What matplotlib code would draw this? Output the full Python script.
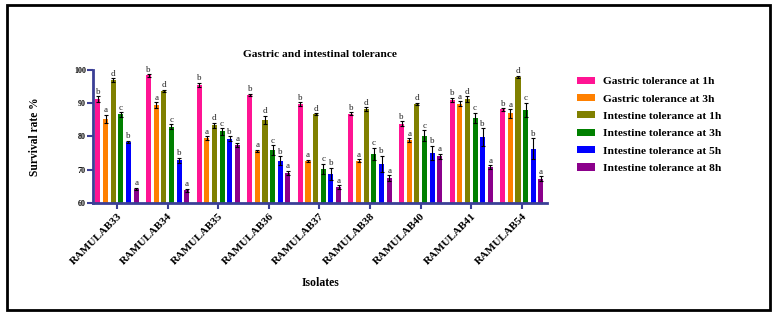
import matplotlib
matplotlib.use("Agg")
import matplotlib.pyplot as plt
import numpy as np
from matplotlib.patches import Rectangle

isolates = ["RAMULAB33", "RAMULAB34", "RAMULAB35", "RAMULAB36", "RAMULAB37",
            "RAMULAB38", "RAMULAB40", "RAMULAB41", "RAMULAB54"]
series_names = ["Gastric tolerance at 1h", "Gastric tolerance at 3h",
                "Intestine tolerance at 1h", "Intestine tolerance at 3h",
                "Intestine tolerance at 5h", "Intestine tolerance at 8h"]
gastric_1h = [91.2, 98.4, 95.6, 92.6, 89.8, 86.9, 83.9, 91.0, 88.2]
gastric_3h = [85.4, 89.5, 79.5, 75.7, 72.6, 72.7, 78.9, 89.9, 87.0]
intestine_1h = [97.0, 93.7, 83.4, 85.0, 86.7, 88.3, 89.9, 91.3, 98.0]
intestine_3h = [86.7, 83.0, 81.5, 75.9, 70.3, 74.8, 80.2, 85.6, 88.0]
intestine_5h = [78.3, 72.8, 79.3, 72.7, 68.8, 71.8, 75.1, 79.8, 76.3]
intestine_8h = [64.2, 63.8, 77.4, 69.1, 64.8, 67.4, 74.0, 70.7, 67.3]

err_g1 = [0.9, 0.4, 0.6, 0.3, 0.5, 0.4, 0.8, 0.7, 0.4]
err_g3 = [1.2, 0.9, 0.6, 0.3, 0.4, 0.5, 0.6, 0.8, 1.3]
err_i1 = [0.5, 0.4, 0.8, 1.3, 0.3, 0.5, 0.3, 0.9, 0.3]
err_i3 = [0.7, 0.7, 1.0, 1.4, 1.5, 1.8, 1.7, 1.6, 2.2]
err_i5 = [0.4, 0.8, 0.8, 1.4, 1.8, 2.4, 2.1, 2.7, 3.2]
err_i8 = [0.4, 0.5, 0.5, 0.6, 0.6, 0.9, 0.8, 0.6, 0.8]

letters = ["b", "a", "d", "c", "b", "a"]

values = [gastric_1h, gastric_3h, intestine_1h, intestine_3h, intestine_5h, intestine_8h]
errors = [err_g1, err_g3, err_i1, err_i3, err_i5, err_i8]
colors = ["#FF1493", "#FF8000", "#808000", "#008000", "#0000FF", "#8B008B"]

serif = ["Liberation Serif", "DejaVu Serif"]
plt.rcParams["font.family"] = serif
plt.rcParams["font.weight"] = "bold"

fig = plt.figure(figsize=(7.75, 3.18), dpi=100)
ax = fig.add_axes([0.12, 0.3616, 0.586, 0.4184])

axis_col = "#3B3F96"
x = np.arange(len(isolates))
pitch = 0.151
width = 0.1
for i, (vals, errs, col, name) in enumerate(zip(values, errors, colors, series_names)):
    xs = x + (i - 2.5) * pitch
    ax.bar(xs, vals, width=width, color=col, label=name, zorder=2)
    ax.errorbar(xs, vals, yerr=errs, fmt="none", ecolor="black", elinewidth=0.8,
                capsize=1.2, capthick=0.8, zorder=3)
    for xi, v, e in zip(xs, vals, errs):
        ax.text(xi, v + e + 0.1, letters[i], ha="center", va="bottom",
                fontsize=6.5, fontweight="normal", color="#222222", zorder=4)

ax.set_ylim(60, 100)
ax.set_xlim(-0.475, 8.5)
ax.set_yticks([60, 70, 80, 90, 100])
ax.set_yticklabels(["60", "70", "80", "90", "100"], fontsize=5.8, fontweight="bold")
ax.set_xticks(x)
ax.set_xticklabels(isolates, rotation=45, ha="right", va="top", rotation_mode="anchor",
                   fontsize=8, fontweight="bold")
for sp in ["top", "right"]:
    ax.spines[sp].set_visible(False)
for sp in ["left", "bottom"]:
    ax.spines[sp].set_color(axis_col)
    ax.spines[sp].set_linewidth(2)
ax.tick_params(axis="both", colors=axis_col, width=1.5, length=4, labelcolor="black")
ax.tick_params(axis="x", pad=2)
ax.tick_params(axis="y", pad=1)

ax.set_title("Gastric and intestinal tolerance", fontsize=8.2, fontweight="bold", pad=9)
ax.set_ylabel("Survival rate %", fontsize=8.3, fontweight="bold", labelpad=24)
ax.set_xlabel("Isolates", fontsize=8.5, fontweight="bold", labelpad=8)

leg = ax.legend(loc="upper left", bbox_to_anchor=(1.055, 0.985), frameon=False,
                fontsize=8.2, handlelength=1.6, handleheight=0.6, labelspacing=0.68,
                handletextpad=0.75, borderaxespad=0)
for t in leg.get_texts():
    t.set_fontweight("bold")

border = Rectangle((7 / 775, 1 - 310 / 318), (770 - 7) / 775, (310 - 5) / 318,
                   transform=fig.transFigure, fill=False, edgecolor="black",
                   linewidth=2, zorder=10)
fig.patches.append(border)

fig.savefig("out.png", dpi=100, facecolor="white")
